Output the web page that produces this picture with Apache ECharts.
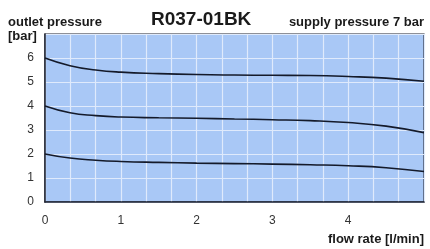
<!DOCTYPE html>
<html><head><meta charset="utf-8">
<script src="https://cdn.jsdelivr.net/npm/echarts@6/dist/echarts.min.js"></script>
<style>html,body{margin:0;padding:0;background:#fff}#c{width:430px;height:249px}</style>
</head><body><div id="c"></div>
<script>
var flow = [0, 0.33, 0.67, 1, 1.5, 2, 2.5, 3, 3.5, 4, 4.5, 5];
var curveHigh = [6.0, 5.68, 5.5, 5.41, 5.35, 5.31, 5.29, 5.28, 5.27, 5.23, 5.16, 5.03];
var curveMid  = [4.0, 3.72, 3.6, 3.54, 3.51, 3.49, 3.46, 3.43, 3.39, 3.31, 3.16, 2.89];
var curveLow  = [2.0, 1.83, 1.74, 1.69, 1.65, 1.62, 1.6, 1.58, 1.55, 1.51, 1.43, 1.27];
var xTicks = ['0', '1', '2', '3', '4'];
var yTicks = ['0', '1', '2', '3', '4', '5', '6'];
var title = 'R037-01BK';
var yName = ['outlet pressure', '[bar]'];
var subtitle = 'supply pressure 7 bar';
var xName = 'flow rate [l/min]';

function pts(arr){ return flow.map(function(x,i){ return [x, arr[i]]; }); }
var lineStyle = {color:'#141a2a', width:1.6};
function ser(arr){ return {type:'line', data:pts(arr), smooth:0.5, showSymbol:false, symbol:'none', lineStyle:lineStyle, silent:true}; }

var chart = echarts.init(document.getElementById('c'), null, {renderer:'canvas'});
chart.setOption({
  animation:false,
  grid:{left:45, right:6, top:34, bottom:47, show:true, backgroundColor:'#a9c8f6', borderColor:'#1e2230', borderWidth:1.2},
  xAxis:{type:'value', min:0, max:5, interval:1,
    axisLine:{show:true, lineStyle:{color:'#1e2230', width:1.5}},
    axisTick:{show:false},
    axisLabel:{color:'#333', fontSize:12, fontFamily:'Liberation Sans, Arial', margin:13,
      formatter:function(v){ var i=Math.round(v); return (i>=0 && i<xTicks.length && Math.abs(v-i)<1e-6)? xTicks[i] : ''; }},
    splitLine:{show:true, lineStyle:{color:'#dfeafc', width:1.2}},
    minorTick:{show:false, splitNumber:3},
    minorSplitLine:{show:true, lineStyle:{color:'#dfeafc', width:1.2}}
  },
  yAxis:{type:'value', min:0, max:7, interval:1,
    axisLine:{show:true, lineStyle:{color:'#1e2230', width:1.5}},
    axisTick:{show:false},
    axisLabel:{color:'#333', fontSize:12, fontFamily:'Liberation Sans, Arial', margin:11,
      formatter:function(v){ var i=Math.round(v); return (i>=0 && i<yTicks.length)? yTicks[i] : ''; }},
    splitLine:{show:true, lineStyle:{color:'#dfeafc', width:1.2}}
  },
  series:[ser(curveHigh), ser(curveMid), ser(curveLow)],
  graphic:[
    {type:'text', left:8, top:16, style:{text:yName[0], fill:'#1a1a1a', font:'bold 13px "Liberation Sans", Arial'}},
    {type:'text', left:8, top:30, style:{text:yName[1], fill:'#1a1a1a', font:'bold 13px "Liberation Sans", Arial'}},
    {type:'text', left:151, top:10, style:{text:title, fill:'#1a1a1a', font:'bold 19px "Liberation Sans", Arial'}},
    {type:'text', right:6, top:16, style:{text:subtitle, fill:'#1a1a1a', font:'bold 13px "Liberation Sans", Arial'}},
    {type:'text', right:6, top:233, style:{text:xName, fill:'#1a1a1a', font:'bold 13px "Liberation Sans", Arial'}}
  ]
});
</script></body></html>
